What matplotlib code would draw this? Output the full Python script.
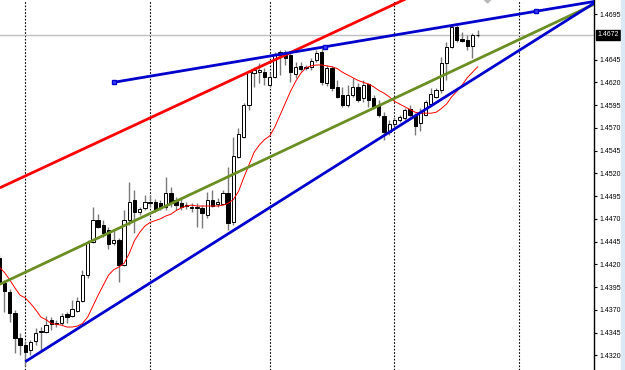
import matplotlib.pyplot as plt
from matplotlib.patches import Rectangle
import matplotlib.transforms as mtransforms
import numpy as np

# hourly bars, oldest first
opens = [1.4427, 1.4399, 1.4390, 1.4366, 1.4339, 1.4331, 1.4326, 1.4336, 1.4346, 1.4346,
         1.4359, 1.4354, 1.4355, 1.4365, 1.4363, 1.4369, 1.4380, 1.4408, 1.4444, 1.4469,
         1.4463, 1.4458, 1.4443, 1.4447, 1.4419, 1.4469, 1.4491, 1.4477, 1.4482, 1.4487,
         1.4488, 1.4487, 1.4483, 1.4498, 1.4491, 1.4487, 1.4484, 1.4482, 1.4482, 1.4482,
         1.4474, 1.4491, 1.4486, 1.4486, 1.4498, 1.4466, 1.4538, 1.4560, 1.4595, 1.4630,
         1.4631, 1.4631, 1.4617, 1.4626, 1.4650, 1.4653, 1.4650, 1.4629, 1.4638, 1.4637,
         1.4637, 1.4644, 1.4653, 1.4619, 1.4636, 1.4615, 1.4606, 1.4595, 1.4606, 1.4615,
         1.4603, 1.4618, 1.4603, 1.4594, 1.4583, 1.4565, 1.4574, 1.4579, 1.4581, 1.4591,
         1.4584, 1.4575, 1.4584, 1.4596, 1.4604, 1.4611, 1.4641, 1.4659, 1.4681, 1.4668,
         1.4666, 1.4660, 1.4672]
highs = [1.4430, 1.4403, 1.4393, 1.4370, 1.4344, 1.4336, 1.4337, 1.4350, 1.4351, 1.4363,
         1.4362, 1.4359, 1.4366, 1.4368, 1.4381, 1.4384, 1.4414, 1.4447, 1.4483, 1.4475,
         1.4469, 1.4461, 1.4458, 1.4449, 1.4480, 1.4510, 1.4502, 1.4483, 1.4496, 1.4496,
         1.4492, 1.4491, 1.4516, 1.4505, 1.4494, 1.4493, 1.4488, 1.4487, 1.4487, 1.4485,
         1.4499, 1.4502, 1.4493, 1.4502, 1.4527, 1.4560, 1.4570, 1.4597, 1.4633, 1.4637,
         1.4641, 1.4636, 1.4630, 1.4653, 1.4655, 1.4655, 1.4652, 1.4642, 1.4642, 1.4639,
         1.4647, 1.4655, 1.4658, 1.4639, 1.4638, 1.4622, 1.4615, 1.4617, 1.4625, 1.4619,
         1.4622, 1.4619, 1.4606, 1.4600, 1.4587, 1.4579, 1.4582, 1.4584, 1.4592, 1.4595,
         1.4586, 1.4592, 1.4600, 1.4614, 1.4614, 1.4648, 1.4664, 1.4683, 1.4683, 1.4675,
         1.4672, 1.4674, 1.4677]
lows = [1.4397, 1.4368, 1.4357, 1.4323, 1.4320, 1.4308, 1.4320, 1.4331, 1.4326, 1.4344,
        1.4348, 1.4351, 1.4353, 1.4355, 1.4362, 1.4368, 1.4379, 1.4405, 1.4443, 1.4460,
        1.4450, 1.4437, 1.4441, 1.4400, 1.4418, 1.4463, 1.4454, 1.4474, 1.4480, 1.4483,
        1.4477, 1.4480, 1.4480, 1.4483, 1.4480, 1.4480, 1.4481, 1.4477, 1.4461, 1.4460,
        1.4471, 1.4483, 1.4483, 1.4485, 1.4458, 1.4463, 1.4537, 1.4559, 1.4590, 1.4615,
        1.4619, 1.4617, 1.4615, 1.4625, 1.4628, 1.4639, 1.4620, 1.4625, 1.4632, 1.4633,
        1.4633, 1.4642, 1.4617, 1.4616, 1.4610, 1.4603, 1.4593, 1.4593, 1.4604, 1.4598,
        1.4598, 1.4593, 1.4592, 1.4582, 1.4557, 1.4562, 1.4572, 1.4576, 1.4579, 1.4582,
        1.4562, 1.4566, 1.4583, 1.4595, 1.4603, 1.4608, 1.4622, 1.4658, 1.4664, 1.4664,
        1.4655, 1.4647, 1.4670]
closes = [1.4399, 1.4391, 1.4366, 1.4339, 1.4331, 1.4324, 1.4335, 1.4344, 1.4347, 1.4353,
          1.4354, 1.4355, 1.4363, 1.4362, 1.4371, 1.4380, 1.4408, 1.4443, 1.4469, 1.4461,
          1.4454, 1.4442, 1.4447, 1.4419, 1.4469, 1.4488, 1.4477, 1.4481, 1.4488, 1.4488,
          1.4480, 1.4482, 1.4498, 1.4487, 1.4485, 1.4483, 1.4485, 1.4483, 1.4483, 1.4476,
          1.4491, 1.4484, 1.4488, 1.4498, 1.4465, 1.4539, 1.4563, 1.4595, 1.4631, 1.4633,
          1.4633, 1.4626, 1.4626, 1.4650, 1.4653, 1.4647, 1.4631, 1.4637, 1.4635, 1.4636,
          1.4643, 1.4652, 1.4620, 1.4636, 1.4614, 1.4604, 1.4595, 1.4606, 1.4615, 1.4600,
          1.4617, 1.4600, 1.4593, 1.4584, 1.4565, 1.4574, 1.4579, 1.4582, 1.4590, 1.4584,
          1.4572, 1.4587, 1.4598, 1.4607, 1.4611, 1.4641, 1.4659, 1.4681, 1.4666, 1.4665,
          1.4660, 1.4672, 1.4672]
# thin red moving average, one value per bar
ma = [1.4417, 1.4411, 1.4403, 1.4394, 1.4386, 1.4383, 1.4377, 1.4370, 1.4362, 1.4359,
      1.4355, 1.4354, 1.4353, 1.4351, 1.4351, 1.4352, 1.4355, 1.4362, 1.4374, 1.4386,
      1.4397, 1.4408, 1.4414, 1.4417, 1.4421, 1.4432, 1.4446, 1.4455, 1.4462, 1.4466,
      1.4468, 1.4470, 1.4473, 1.4475, 1.4479, 1.4482, 1.4484, 1.4485, 1.4484, 1.4484,
      1.4484, 1.4484, 1.4484, 1.4485, 1.4487, 1.4491, 1.4500, 1.4515, 1.4529, 1.4543,
      1.4551, 1.4557, 1.4561, 1.4571, 1.4584, 1.4597, 1.4610, 1.4621, 1.4630, 1.4636,
      1.4638, 1.4639, 1.4639, 1.4638, 1.4637, 1.4635, 1.4631, 1.4628, 1.4625, 1.4622,
      1.4620, 1.4618, 1.4615, 1.4611, 1.4608, 1.4604, 1.4599, 1.4596, 1.4593, 1.4590,
      1.4587, 1.4586, 1.4586, 1.4586, 1.4587, 1.4591, 1.4596, 1.4604, 1.4610, 1.4617,
      1.4625, 1.4631, 1.4637]

day_breaks = [5, 29, 52, 76, 100]
price_ticks = [1.4320, 1.4345, 1.4370, 1.4395, 1.4420, 1.4445, 1.4470, 1.4495,
               1.4520, 1.4545, 1.4570, 1.4595, 1.4620, 1.4645, 1.4695]
last_price = 1.4672

# trend lines as (bar, price) anchor pairs, drawn as rays to the right
red_line = [(0.1, 1.4504), (52, 1.4642)]
green_line = [(0.1, 1.4398), (100, 1.4667)]
blue_low = [(5, 1.4313), (114.4, 1.4707)]
blue_high = [(22.06, 1.4620), (103.2, 1.4698)]
marker_bar, marker_price = 93.8, 1.4711

x_left, x_right = 0.135, 114.37
y_low, y_high = 1.43038, 1.47104

fig = plt.figure(figsize=(6.25, 3.7), dpi=100)
ax = fig.add_axes([0, 0, 594 / 625, 1])
ax.set_xlim(x_left, x_right)
ax.set_ylim(y_low, y_high)

for d in day_breaks:
    ax.axvline(d, color='black', lw=0.8, ls=(0, (1.5, 1.5)), zorder=1)
ax.axhline(last_price, color='#c0c0c0', lw=1, zorder=1)

# candles
o = np.array(opens); c = np.array(closes)
bars = np.arange(len(o))
up = c >= o
body_h = np.maximum(np.abs(c - o), 0.00004)
ax.vlines(bars, lows, highs, color='#7a7a7a', lw=1, zorder=3)
ax.bar(bars, body_h, bottom=np.minimum(o, c), width=0.62,
       color=np.where(up, 'white', 'black'), edgecolor='black', linewidth=0.7, zorder=4)

ax.plot(bars, ma, color='red', lw=0.7, zorder=5)


def ray(pts, color):
    (x0, y0), (x1, y1) = pts
    k = (y1 - y0) / (x1 - x0)
    ax.plot([x0, x_right + 2], [y0, y0 + k * (x_right + 2 - x0)], color=color, lw=2,
            zorder=6, solid_capstyle='butt')


ray(red_line, '#ff0000')
ray(green_line, '#6b8e23')
ray(blue_low, '#0000cd')
ray(blue_high, '#0000cd')
# anchor squares of the selected line
bx = [blue_high[0][0], (blue_high[0][0] + blue_high[1][0]) / 2, blue_high[1][0]]
by = [blue_high[0][1], (blue_high[0][1] + blue_high[1][1]) / 2, blue_high[1][1]]
ax.plot(bx, by, ls='none', marker='s', ms=3, mfc='#4040ff', mec='#0000cd', zorder=7)

ax.plot([marker_bar], [marker_price], marker='D', ms=3.5, color='#b8b8b8', ls='none', zorder=7)

ax.set_xticks([])
ax.yaxis.tick_right()
ax.set_yticks(price_ticks)
ax.set_yticklabels([f'{p:.4f}' for p in price_ticks], fontsize=5, family='Liberation Sans')
ax.tick_params(axis='y', length=2.5, width=0.8, pad=1.5, colors='black')
for s in ['left', 'top', 'bottom']:
    ax.spines[s].set_visible(False)
ax.spines['right'].set_linewidth(1)

trans = mtransforms.blended_transform_factory(ax.transAxes, ax.transData)
ax.text(1.006, last_price, f'{last_price:.4f}', transform=trans, ha='left', va='center',
        fontsize=5, family='Liberation Sans', color='white',
        bbox=dict(facecolor='black', edgecolor='black', pad=0.8))

fig.patches.append(Rectangle((620.5 / 625, 0), 4.5 / 625, 1, transform=fig.transFigure,
                             color='#dbe8f6', zorder=0))

fig.savefig('out.png', dpi=100)
